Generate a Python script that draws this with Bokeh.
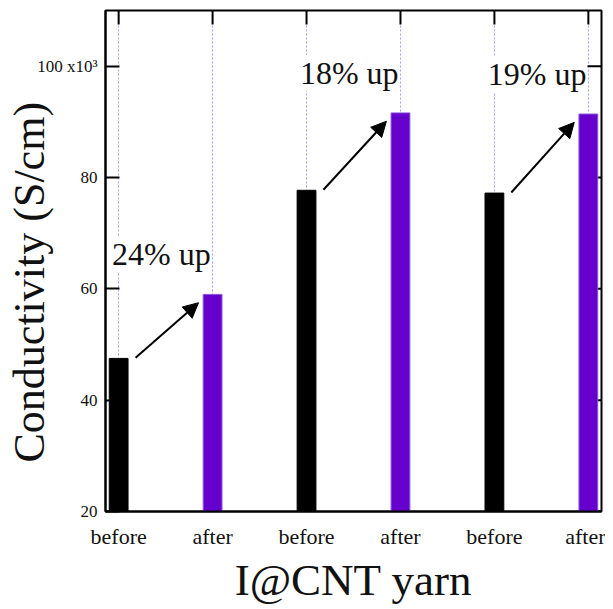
import math
from bokeh.plotting import figure
from bokeh.models import (ColumnDataSource, FixedTicker, Range1d,
                          Arrow, NormalHead, LabelSet, Title)
from bokeh.embed import file_html
from bokeh.resources import INLINE

# ---- data ----
tick_labels = ["before", "after", "before", "after", "before", "after"]
before_vals = [47.5, 77.7, 77.2]
after_vals = [59.0, 91.6, 91.4]
pct_labels = ["24% up", "18% up", "19% up"]
y_ticks = [20, 40, 60, 80, 100]

FONT = "Liberation Serif"
PURPLE = "#6600cc"

n = len(before_vals)
before_x = [2 * i for i in range(n)]
after_x = [2 * i + 1 for i in range(n)]
x_ticks = list(range(len(tick_labels)))

X0, X1, Y0, Y1 = -0.14, 5.14, 20, 110

p = figure(width=605, height=608, output_backend="svg", toolbar_location=None,
           x_range=Range1d(X0, X1), y_range=Range1d(Y0, Y1),
           min_border_left=105, min_border_right=4, min_border_top=10,
           min_border_bottom=97)

p.outline_line_color = "black"
p.outline_line_width = 2
p.background_fill_color = "white"

# grids
p.ygrid.grid_line_color = None
p.xgrid.ticker = FixedTicker(ticks=x_ticks)
p.xgrid.grid_line_color = "#a3a3f0"
p.xgrid.grid_line_dash = "2 2"
p.xgrid.grid_line_width = 1

# mirrored inward ticks on top and right (drawn under the bars)
p.ray(x=x_ticks, y=[Y1] * len(x_ticks), length=14, length_units="screen",
      angle=-math.pi / 2, line_color="black", line_width=2)
p.ray(x=[X1] * len(y_ticks), y=y_ticks, length=14, length_units="screen",
      angle=math.pi, line_color="black", line_width=2)

# bars
p.vbar(x=before_x, top=before_vals, bottom=Y0, width=0.2, fill_color="black",
       line_color="black")
p.vbar(x=after_x, top=after_vals, bottom=Y0, width=0.2, fill_color=PURPLE,
       line_color="#8a55dd", line_width=1)

# bottom axis
xa = p.xaxis[0]
xa.ticker = FixedTicker(ticks=x_ticks)
xa.major_label_overrides = {i: t for i, t in enumerate(tick_labels)}
xa.major_tick_in = 14
xa.major_tick_out = 0
xa.major_tick_line_color = None
xa.minor_tick_line_color = None
xa.axis_line_width = 2
xa.major_label_text_font = FONT
xa.major_label_text_font_size = "22px"
xa.major_label_text_color = "#111111"
xa.major_label_standoff = 12
xa.axis_label = "I@CNT yarn"
xa.axis_label_text_font = FONT
xa.axis_label_text_font_size = "45px"
xa.axis_label_text_font_style = "normal"
xa.axis_label_text_color = "#111111"
xa.axis_label_standoff = 3

# left axis
ya = p.yaxis[0]
ya.ticker = FixedTicker(ticks=y_ticks)
ya.major_label_overrides = {100: "100 x10\u00b3"}
ya.major_tick_in = 14
ya.major_tick_out = 0
ya.minor_tick_line_color = None
ya.major_tick_line_width = 2
ya.axis_line_width = 2
ya.major_label_text_font = FONT
ya.major_label_text_font_size = "17px"
ya.major_label_text_color = "#111111"
ya.major_label_standoff = 8

# y axis title, starting a little above the bottom like the original
p.add_layout(Title(text="Conductivity (S/cm)", align="left", offset=49,
                   standoff=-38, text_font=FONT, text_font_size="44px",
                   text_font_style="normal", text_color="#111111"), "left")

# arrows (derived from bar data)
arrow_src = ColumnDataSource(dict(
    xs=[x + 0.18 for x in before_x],
    ys=[v + 0.1 for v in before_vals],
    xe=[x - 0.15 for x in after_x],
    ye=[v - 1.5 for v in after_vals],
))
p.add_layout(Arrow(end=NormalHead(size=15, fill_color="black", line_color="black"),
                   x_start="xs", y_start="ys", x_end="xe", y_end="ye",
                   line_width=2, line_color="black", source=arrow_src))

# percentage labels
lab_src = ColumnDataSource(dict(
    x=[x - 0.07 for x in before_x],
    y=[v + 5.2 for v in after_vals],
    t=pct_labels,
))
p.add_layout(LabelSet(x="x", y="y", text="t", source=lab_src,
                      text_font=FONT, text_font_size="32px", text_color="#111111",
                      text_align="left", text_baseline="alphabetic",
                      background_fill_color="white"))

open("out.html", "w").write(file_html(p, INLINE))
